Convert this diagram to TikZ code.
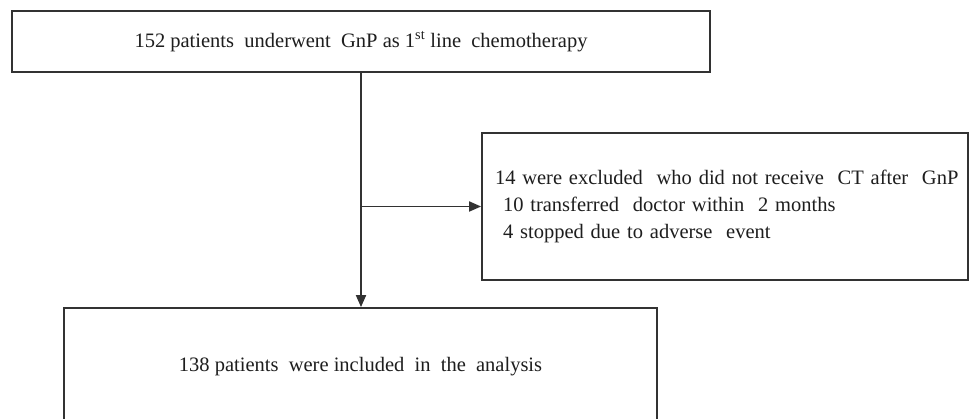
\documentclass[tikz,border=0pt]{standalone}
\usepackage{fontspec}
\setmainfont{Liberation Serif}
\usepackage{xcolor}
\usetikzlibrary{arrows.meta,positioning,calc}
\definecolor{fline}{RGB}{50,50,50}
\definecolor{ftext}{RGB}{30,30,30}
\tikzset{
  box/.style={rectangle,draw=fline,line width=1.8pt,fill=white,text=ftext,
              align=center,font=\fontsize{20.5}{27}\selectfont,inner sep=0pt},
  exbox/.style={box,align=left,text width=460pt,inner xsep=13pt},
  flow/.style={-{Triangle[length=12pt,width=10pt]},line width=1.8pt,fline},
}

\begin{document}
\begin{tikzpicture}[x=1pt,y=-1pt]
  \clip (0,0) rectangle (970,419);
  \fill[white] (0,0) rectangle (970,419);
  \node[box,minimum width=698pt,minimum height=61pt] (start) at (361,41.5)
     {152 patients~ underwent~ GnP as 1\textsuperscript{st} line~ chemotherapy};
  \node[exbox,minimum height=147pt] (excl) at (725,206.5)
     {\mbox{14 were excluded~ who did not receive~ CT after~ GnP}\\
      \hspace*{8pt}10 transferred~ doctor within~ 2 months\\
      \hspace*{8pt}4 stopped due to adverse~ event};
  \node[box,minimum width=593pt,minimum height=118pt] (incl) at (360.5,367)
     {138 patients~ were included~ in~ the~ analysis};
  % main flow and side branch
  \coordinate (br) at (start.south |- excl.west);
  \draw[flow] (start.south) -- (start.south |- incl.north);
  \draw[flow] (br) -- (excl.west);
\end{tikzpicture}
\end{document}
